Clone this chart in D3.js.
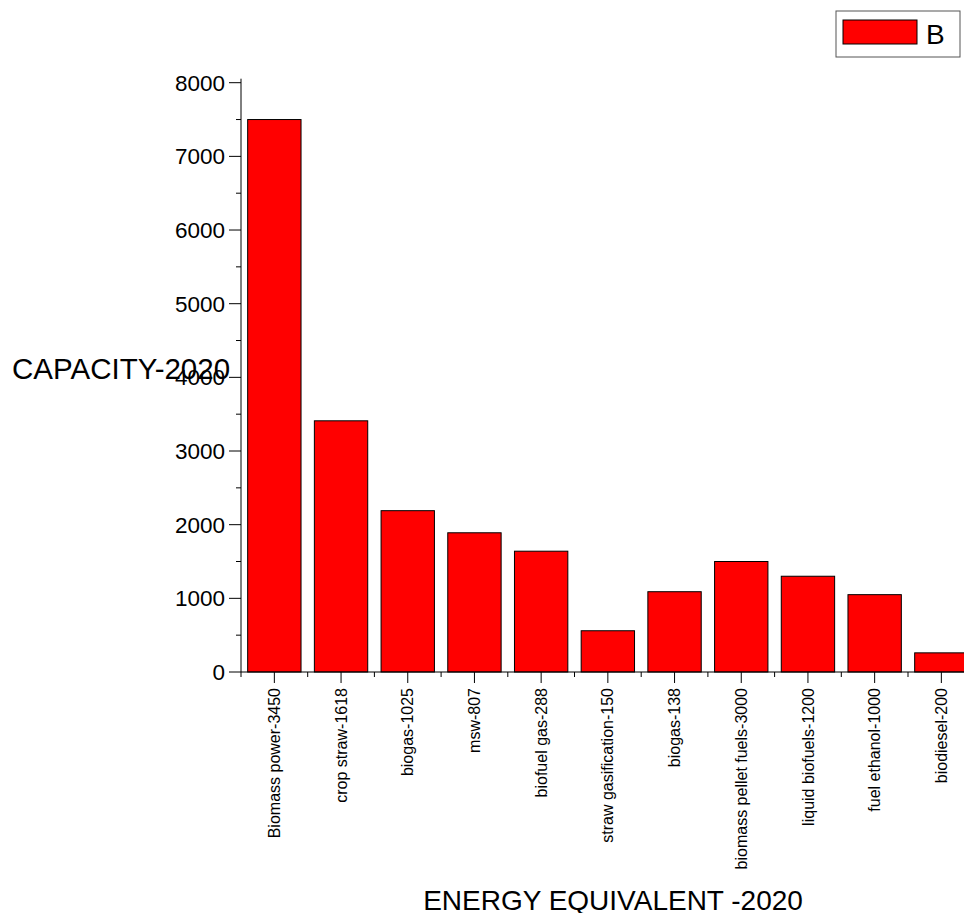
<!DOCTYPE html>
<html>
<head>
<meta charset="utf-8">
<script src="https://cdn.jsdelivr.net/npm/d3@7"></script>
<style>
  body { margin: 0; background: #fff; }
  svg { display: block; font-family: "Liberation Sans", Arial, sans-serif; }
</style>
</head>
<body>
<svg id="chart" width="964" height="913"></svg>
<script>
// data
var categories = ["Biomass power-3450", "crop straw-1618", "biogas-1025", "msw-807",
    "biofuel gas-288", "straw gasification-150", "biogas-138", "biomass pellet fuels-3000",
    "liquid biofuels-1200", "fuel ethanol-1000", "biodiesel-200"];
var values = [7500, 3410, 2190, 1890, 1640, 560, 1090, 1500, 1300, 1050, 260];
var yTicks = [0, 1000, 2000, 3000, 4000, 5000, 6000, 7000, 8000];
var seriesName = "B";

var svg = d3.select("#chart"),
    plotLeft = 241, plotBottom = 672, plotTop = 82.7,
    bandW = 66.7;

var x = d3.scaleBand()
    .domain(d3.range(categories.length))
    .range([plotLeft, plotLeft + bandW * categories.length])
    .paddingInner(0.2)
    .paddingOuter(0.1);

var y = d3.scaleLinear().domain([0, 8000]).range([plotBottom, plotTop]);

// bars (the last one runs off the right edge like the source)
svg.append("g")
    .selectAll("rect")
    .data(values)
    .enter().append("rect")
    .attr("x", function (d, i) { return x(i); })
    .attr("y", function (d) { return y(d); })
    .attr("width", x.bandwidth())
    .attr("height", function (d) { return plotBottom - y(d); })
    .attr("fill", "#ff0000")
    .attr("stroke", "#000")
    .attr("stroke-width", 1);

// y axis
var yAxis = svg.append("g");
yAxis.append("line")
    .attr("x1", plotLeft).attr("x2", plotLeft)
    .attr("y1", y(8000) - 4).attr("y2", plotBottom)
    .attr("stroke", "#000");
yAxis.selectAll(".minor")
    .data(d3.range(500, 8000, 1000))
    .enter().append("line")
    .attr("x1", plotLeft - 5).attr("x2", plotLeft)
    .attr("y1", function (d) { return y(d); })
    .attr("y2", function (d) { return y(d); })
    .attr("stroke", "#000");
yAxis.selectAll(".major")
    .data(yTicks)
    .enter().append("line")
    .attr("x1", plotLeft - 12).attr("x2", plotLeft)
    .attr("y1", function (d) { return y(d); })
    .attr("y2", function (d) { return y(d); })
    .attr("stroke", "#000");
yAxis.selectAll("text")
    .data(yTicks)
    .enter().append("text")
    .attr("x", plotLeft - 16)
    .attr("y", function (d) { return y(d); })
    .attr("dy", "0.36em")
    .attr("text-anchor", "end")
    .style("font-size", "22.5px")
    .text(function (d) { return d; });

// x axis
var xAxis = svg.append("g");
xAxis.append("line")
    .attr("x1", plotLeft).attr("x2", 964)
    .attr("y1", plotBottom).attr("y2", plotBottom)
    .attr("stroke", "#000");
xAxis.selectAll(".edge")
    .data(d3.range(categories.length + 1))
    .enter().append("line")
    .attr("x1", function (i) { return plotLeft + i * bandW; })
    .attr("x2", function (i) { return plotLeft + i * bandW; })
    .attr("y1", plotBottom).attr("y2", plotBottom + 5)
    .attr("stroke", "#000");
xAxis.selectAll(".mid")
    .data(d3.range(categories.length))
    .enter().append("line")
    .attr("x1", function (i) { return x(i) + x.bandwidth() / 2; })
    .attr("x2", function (i) { return x(i) + x.bandwidth() / 2; })
    .attr("y1", plotBottom).attr("y2", plotBottom + 11)
    .attr("stroke", "#000");
xAxis.selectAll("text")
    .data(categories)
    .enter().append("text")
    .attr("transform", function (d, i) {
        return "translate(" + (x(i) + x.bandwidth() / 2) + "," + (plotBottom + 16) + ") rotate(-90)";
    })
    .attr("dy", "0.35em")
    .attr("text-anchor", "end")
    .style("font-size", "16px")
    .text(function (d) { return d; });

// axis titles
svg.append("text")
    .attr("x", 12).attr("y", 379)
    .style("font-size", "29.5px")
    .text("CAPACITY-2020");
svg.append("text")
    .attr("x", 613).attr("y", 910)
    .attr("text-anchor", "middle")
    .style("font-size", "28px")
    .text("ENERGY EQUIVALENT -2020");

// legend
var legend = svg.append("g");
legend.append("rect")
    .attr("x", 836).attr("y", 11).attr("width", 124).attr("height", 46)
    .attr("fill", "#fff").attr("stroke", "#555");
legend.append("rect")
    .attr("x", 843).attr("y", 20).attr("width", 74).attr("height", 24)
    .attr("fill", "#ff0000").attr("stroke", "#000");
legend.append("text")
    .attr("x", 926).attr("y", 44)
    .style("font-size", "28px")
    .text(seriesName);
</script>
</body>
</html>
